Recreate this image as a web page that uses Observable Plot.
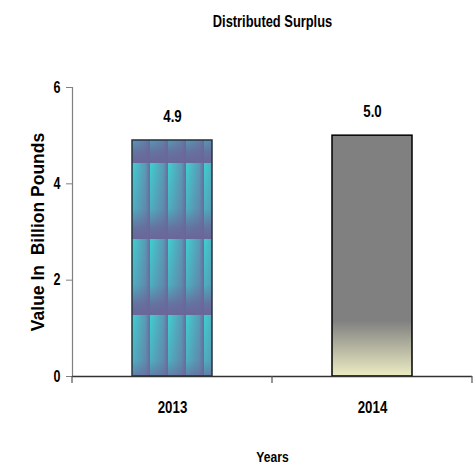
<!DOCTYPE html>
<html><head><meta charset="utf-8">
<script src="https://cdn.jsdelivr.net/npm/d3@7"></script>
<script src="https://cdn.jsdelivr.net/npm/@observablehq/plot@0.6"></script>
<style>body{margin:0;background:#fff} svg{display:block}</style>
</head><body><div id="chart"></div>
<script>
const years = ["2013", "2014"];
const values = [4.9, 5.0];
const valueLabels = ["4.9", "5.0"];
const yTicks = [0, 2, 4, 6];
const title = "Distributed Surplus";
const xLabel = "Years";
const yLabel = "Value In  Billion Pounds";

const data = years.map((y, i) => ({year: y, value: values[i], label: valueLabels[i]}));
const font = `"Liberation Sans",Arial,sans-serif`;
const narrowFactor = 0.78;

const chart = Plot.plot({
  width: 475, height: 468,
  marginTop: 87, marginBottom: 92, marginLeft: 72, marginRight: 3,
  style: {fontFamily: font, fontSize: "16px", fontWeight: "bold", color: "#000", background: "#fff"},
  x: {domain: years, paddingInner: 0.6, paddingOuter: 0.3, axis: null},
  y: {domain: [0, 6], axis: null},
  marks: [
    Plot.barY([data[0]], {x: "year", y: "value", fill: "url(#pat2013)", stroke: "#26333f", strokeWidth: 1.5}),
    Plot.barY([data[1]], {x: "year", y: "value", fill: "url(#grad2014)", stroke: "#000", strokeWidth: 1.5}),
    Plot.frame({anchor: "left", stroke: "#808080", strokeWidth: 1.2}),
    Plot.ruleY([0], {stroke: "#333", strokeWidth: 1.6}),
    Plot.axisY({ticks: yTicks, tickFormat: d => String(d), tickSize: 6, tickPadding: 6, stroke: "#808080", fontSize: 16, fontWeight: "bold", label: null}),
    Plot.text(data, {x: "year", y: "value", text: "label", dy: -24, fontSize: 17, fontWeight: "bold"}),
    Plot.text(data, {x: "year", text: "year", frameAnchor: "bottom", lineAnchor: "middle", dy: 31.5, fontSize: 17, fontWeight: "bold"}),
    Plot.text([xLabel], {text: d => d, frameAnchor: "bottom", lineAnchor: "middle", dy: 80.5, fontSize: 15.5, fontWeight: "bold"}),
    Plot.text([title], {text: d => d, frameAnchor: "top", lineAnchor: "middle", dy: -66, fontSize: 16.5, fontWeight: "bold"}),
    Plot.text([yLabel], {text: d => d, frameAnchor: "left", textAnchor: "middle", lineAnchor: "middle", dx: -34, rotate: -90, fontSize: 17.5, fontWeight: "bold"})
  ]
});

const svg = d3.select(chart);
svg.selectAll("text").style("white-space", "pre");
const xs = chart.scale("x"), ys = chart.scale("y");
const step = xs.step, bw = xs.bandwidth;
const bar0 = xs.apply(years[0]);
const top0 = ys.apply(values[0]);

const defs = svg.insert("defs", ":first-child");
const hg = defs.append("linearGradient").attr("id", "hgrad").attr("x1", 0).attr("x2", 1).attr("y1", 0).attr("y2", 0);
hg.append("stop").attr("offset", 0).attr("stop-color", "#3fd0d0");
hg.append("stop").attr("offset", 0.75).attr("stop-color", "#5a9ab4");
hg.append("stop").attr("offset", 1).attr("stop-color", "#6a6a9c");
const vg = defs.append("linearGradient").attr("id", "vgrad").attr("x1", 0).attr("x2", 0).attr("y1", 0).attr("y2", 1);
vg.append("stop").attr("offset", 0).attr("stop-color", "#6a669a").attr("stop-opacity", 0);
vg.append("stop").attr("offset", 0.6).attr("stop-color", "#6a669a").attr("stop-opacity", 0.3);
vg.append("stop").attr("offset", 0.85).attr("stop-color", "#6a669a").attr("stop-opacity", 0.85);
vg.append("stop").attr("offset", 1).attr("stop-color", "#6a669a").attr("stop-opacity", 1);
const tileW = 18, tileH = 76;
const pat = defs.append("pattern").attr("id", "pat2013").attr("patternUnits", "userSpaceOnUse")
  .attr("x", bar0).attr("y", top0 - tileH + 23).attr("width", tileW).attr("height", tileH);
pat.append("rect").attr("width", tileW).attr("height", tileH).attr("fill", "url(#hgrad)");
pat.append("rect").attr("width", tileW).attr("height", tileH).attr("fill", "url(#vgrad)");

const g2 = defs.append("linearGradient").attr("id", "grad2014").attr("x1", 0).attr("x2", 0).attr("y1", 0).attr("y2", 1);
g2.append("stop").attr("offset", 0).attr("stop-color", "#808080");
g2.append("stop").attr("offset", 0.77).attr("stop-color", "#808080");
g2.append("stop").attr("offset", 1).attr("stop-color", "#ececc4");

// category boundary ticks on the x axis
const y0 = ys.apply(0);
const bounds = years.map(y => xs.apply(y) - (step - bw) / 2).concat([xs.apply(years[years.length - 1]) + bw + (step - bw) / 2]);
svg.append("g").selectAll("line").data(bounds).join("line")
  .attr("x1", d => d).attr("x2", d => d).attr("y1", y0).attr("y2", y0 + 7)
  .attr("stroke", "#555").attr("stroke-width", 1.2);

document.getElementById("chart").appendChild(chart);

// condensed (narrow) look for all texts except the y-axis title
svg.selectAll("text").each(function () {
  if (this.textContent === yLabel) return;
  const len = this.getComputedTextLength();
  if (len > 0) {
    this.setAttribute("textLength", (len * narrowFactor).toFixed(2));
    this.setAttribute("lengthAdjust", "spacingAndGlyphs");
  }
});
</script>
</body></html>
